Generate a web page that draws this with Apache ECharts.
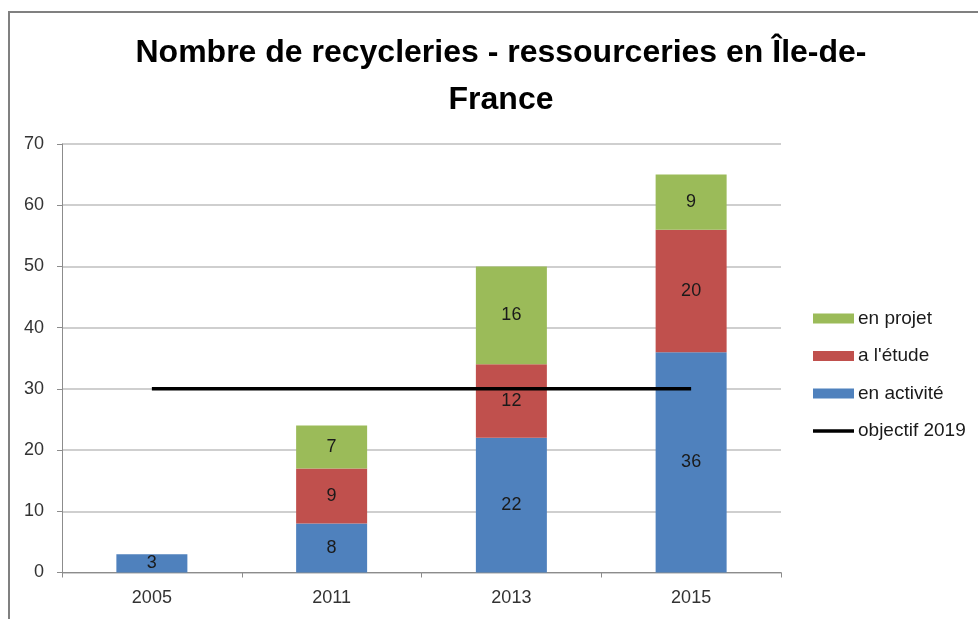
<!DOCTYPE html>
<html>
<head>
<meta charset="utf-8">
<script src="https://cdn.jsdelivr.net/npm/echarts@6/dist/echarts.min.js"></script>
<style>
  html, body { margin: 0; padding: 0; background: #fff; }
  #chart { width: 978px; height: 619px; }
</style>
</head>
<body>
<div id="chart"></div>
<script>
// données
const years = ['2005', '2011', '2013', '2015'];
const enActivite = [3, 8, 22, 36];
const aLEtude = [null, 9, 12, 20];
const enProjet = [null, 7, 16, 9];
const objectif2019 = [30, 30, 30, 30];
const yTicks = [0, 10, 20, 30, 40, 50, 60, 70];

const font = "'Liberation Sans', Arial, sans-serif";

const chart = echarts.init(document.getElementById('chart'));

function barLabel() {
    return {
        show: true,
        position: 'inside',
        color: '#1a1a1a',
        fontFamily: font,
        fontSize: 18,
        formatter: p => (p.value == null ? '' : p.value)
    };
}

chart.setOption({
    animation: false,
    backgroundColor: '#fff',
    title: {
        text: 'Nombre de recycleries - ressourceries en Île-de-\nFrance',
        left: 501,
        textAlign: 'center',
        top: 30,
        padding: 0,
        textStyle: {
            fontFamily: font,
            fontWeight: 'bold',
            fontSize: 32,
            lineHeight: 47,
            color: '#000'
        }
    },
    graphic: [{
        type: 'rect',
        shape: { x: 9, y: 12, width: 1000, height: 700 },
        style: { fill: 'none', stroke: '#808080', lineWidth: 2 },
        silent: true
    }],
    legend: {
        orient: 'vertical',
        left: 808,
        top: 304,
        itemWidth: 41,
        itemHeight: 10,
        itemGap: 18.5,
        data: [
            { name: 'en projet', icon: 'rect' },
            { name: "a l'étude", icon: 'rect' },
            { name: 'en activité', icon: 'rect' },
            { name: 'objectif 2019', icon: 'path://M0,0 L41,0 L41,3.5 L0,3.5 Z' }
        ],
        textStyle: { fontFamily: font, fontSize: 19, color: '#1a1a1a', padding: [0, 0, 0, -1] }
    },
    grid: {
        left: 62,
        right: 197,
        top: 144,
        bottom: 46.5
    },
    xAxis: {
        type: 'category',
        data: years,
        axisLine: { lineStyle: { color: '#8c8c8c', width: 1 } },
        axisTick: { show: true, length: 5, lineStyle: { color: '#8c8c8c' } },
        axisLabel: { fontFamily: font, fontSize: 18, color: '#333', margin: 17 }
    },
    yAxis: {
        type: 'value',
        min: yTicks[0],
        max: yTicks[yTicks.length - 1],
        interval: 10,
        axisLine: { show: true, lineStyle: { color: '#8c8c8c', width: 1 } },
        axisTick: { show: true, length: 5, lineStyle: { color: '#8c8c8c' } },
        splitLine: { lineStyle: { color: '#bfbfbf', width: 1.5 } },
        axisLabel: { fontFamily: font, fontSize: 18, color: '#333', margin: 18 }
    },
    series: [
        {
            name: 'en activité',
            type: 'bar',
            stack: 'total',
            barWidth: 71,
            data: enActivite,
            itemStyle: { color: '#4f81bd' },
            label: barLabel()
        },
        {
            name: "a l'étude",
            type: 'bar',
            stack: 'total',
            data: aLEtude,
            itemStyle: { color: '#c0504d' },
            label: barLabel()
        },
        {
            name: 'en projet',
            type: 'bar',
            stack: 'total',
            data: enProjet,
            itemStyle: { color: '#9bbb59' },
            label: barLabel()
        },
        {
            name: 'objectif 2019',
            type: 'line',
            data: objectif2019,
            symbol: 'none',
            lineStyle: { color: '#000', width: 3.5 },
            itemStyle: { color: '#000' },
            z: 5
        }
    ]
});
</script>
</body>
</html>
